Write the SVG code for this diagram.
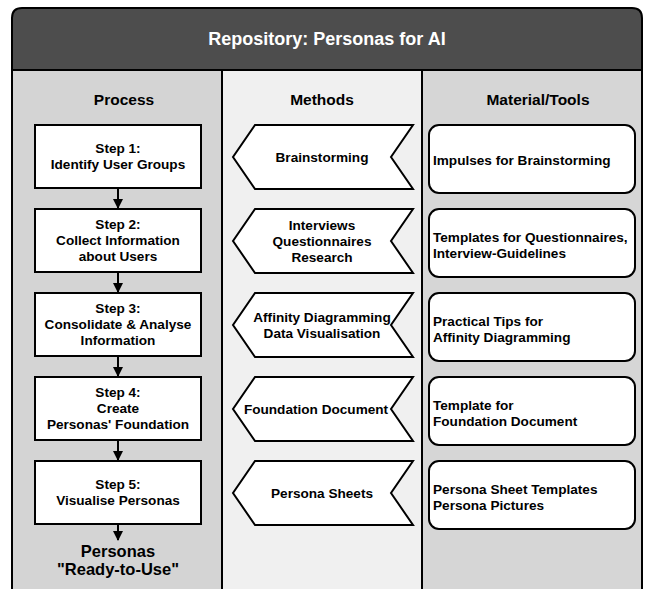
<svg xmlns="http://www.w3.org/2000/svg" width="647" height="589" viewBox="0 0 647 589">
<style>
text{font-family:"Liberation Sans",Arial,sans-serif;font-weight:bold;fill:#000;}
.t{font-size:13.6px;text-anchor:middle;}
.l{font-size:13.6px;text-anchor:start;}
.h{font-size:15.5px;text-anchor:middle;}
.r{font-size:16.5px;text-anchor:middle;}
.box{fill:#fff;stroke:#000;stroke-width:2;}
.lane{stroke:#000;stroke-width:2;}
.conn{stroke:#000;stroke-width:2;fill:none;marker-end:url(#ah);}
</style>
<defs>
<marker id="ah" markerWidth="10" markerHeight="10" refX="9" refY="5" orient="auto" markerUnits="userSpaceOnUse">
<path d="M0,0 L10,5 L0,10 Z" fill="#000"/>
</marker>
</defs>
<g id="lanes">
<rect class="lane" x="12" y="60" width="210" height="540" fill="#d4d4d4"/>
<rect class="lane" x="222" y="60" width="200" height="540" fill="#f0f0f0"/>
<rect class="lane" x="422" y="60" width="220" height="540" fill="#d6d6d6"/>
</g>
<g id="header">
<path d="M12,70 L12,18 Q12,8 22,8 L632,8 Q642,8 642,18 L642,70 Z" fill="#4d4d4d" stroke="#000" stroke-width="2"/>
<text x="327" y="45" style="font-size:18px;text-anchor:middle;fill:#fff">Repository: Personas for AI</text>
</g>
<g id="lane-titles">
<text class="h" x="124" y="105">Process</text>
<text class="h" x="322" y="105">Methods</text>
<text class="h" x="538" y="105">Material/Tools</text>
</g>
<g id="step1"><rect class="box" x="35" y="125" width="166" height="63"/><text class="t" x="118" y="153">Step 1:</text><text class="t" x="118" y="169">Identify User Groups</text></g>
<g id="step2"><rect class="box" x="35" y="209" width="166" height="63"/><text class="t" x="118" y="229">Step 2:</text><text class="t" x="118" y="245">Collect Information</text><text class="t" x="118" y="261">about Users</text></g>
<g id="step3"><rect class="box" x="35" y="293" width="166" height="63"/><text class="t" x="118" y="313">Step 3:</text><text class="t" x="118" y="329">Consolidate &amp; Analyse</text><text class="t" x="118" y="345">Information</text></g>
<g id="step4"><rect class="box" x="35" y="377" width="166" height="63"/><text class="t" x="118" y="397">Step 4:</text><text class="t" x="118" y="413">Create</text><text class="t" x="118" y="429">Personas' Foundation</text></g>
<g id="step5"><rect class="box" x="35" y="461" width="166" height="63"/><text class="t" x="118" y="489">Step 5:</text><text class="t" x="118" y="505">Visualise Personas</text></g>
<g id="result"><text class="r" x="118" y="557">Personas</text><text class="r" x="118" y="575">"Ready-to-Use"</text></g>
<g id="m1"><path class="box" d="M255,125 L413,125 L391,157 L413,189 L255,189 L233,157 Z"/><text class="t" x="322" y="162">Brainstorming</text></g>
<g id="m2"><path class="box" d="M255,209 L413,209 L391,241 L413,273 L255,273 L233,241 Z"/><text class="t" x="322" y="230">Interviews</text><text class="t" x="322" y="246">Questionnaires</text><text class="t" x="322" y="262">Research</text></g>
<g id="m3"><path class="box" d="M255,293 L413,293 L391,325 L413,357 L255,357 L233,325 Z"/><text class="t" x="322" y="322">Affinity Diagramming</text><text class="t" x="322" y="338">Data Visualisation</text></g>
<g id="m4"><path class="box" d="M255,377 L413,377 L391,409 L413,441 L255,441 L233,409 Z"/><text class="t" x="316" y="414">Foundation Document</text></g>
<g id="m5"><path class="box" d="M255,461 L413,461 L391,493 L413,525 L255,525 L233,493 Z"/><text class="t" x="322" y="498">Persona Sheets</text></g>
<g id="t1"><rect class="box" x="429" y="125" width="206" height="68" rx="10"/><text class="l" x="433" y="165">Impulses for Brainstorming</text></g>
<g id="t2"><rect class="box" x="429" y="209" width="206" height="68" rx="10"/><text class="l" x="433" y="242">Templates for Questionnaires,</text><text class="l" x="433" y="258">Interview-Guidelines</text></g>
<g id="t3"><rect class="box" x="429" y="293" width="206" height="68" rx="10"/><text class="l" x="433" y="326">Practical Tips for</text><text class="l" x="433" y="342">Affinity Diagramming</text></g>
<g id="t4"><rect class="box" x="429" y="377" width="206" height="68" rx="10"/><text class="l" x="433" y="410">Template for</text><text class="l" x="433" y="426">Foundation Document</text></g>
<g id="t5"><rect class="box" x="429" y="461" width="206" height="68" rx="10"/><text class="l" x="433" y="494">Persona Sheet Templates</text><text class="l" x="433" y="510">Persona Pictures</text></g>
<g id="connectors">
<line class="conn" x1="118" y1="188" x2="118" y2="208"/>
<line class="conn" x1="118" y1="272" x2="118" y2="292"/>
<line class="conn" x1="118" y1="356" x2="118" y2="376"/>
<line class="conn" x1="118" y1="440" x2="118" y2="460"/>
<line class="conn" x1="118" y1="524" x2="118" y2="540"/>
</g>
</svg>
